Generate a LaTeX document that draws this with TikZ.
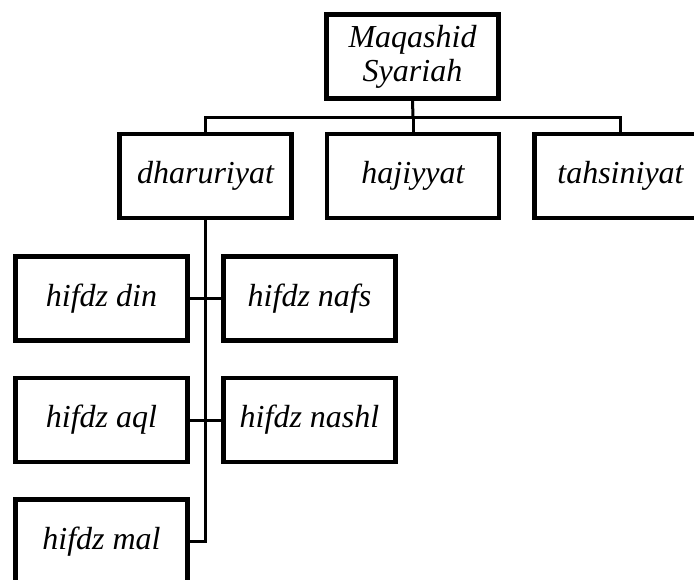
\documentclass[tikz,border=0pt]{standalone}
\usepackage{fontspec}
\setmainfont{Liberation Serif}[ItalicFont={Liberation Serif Italic}]
\usepackage{tikz}

\begin{document}
\begin{tikzpicture}[x=1pt,y=-1pt,
    kotak/.style={draw,line width=4.5pt,rectangle,minimum width=172pt,minimum height=84pt,
      inner sep=0pt,align=center,font=\fontsize{32}{34}\selectfont\itshape},
    garis/.style={line width=3pt}]
        % frame
        \useasboundingbox (0,0) rectangle (694,579);
        \clip (0,0) rectangle (694,579);
        % top
        \node[kotak] (maq) at (412.5,56.5) {Maqashid\\Syariah};
        \node[kotak] (dhar) at (205.5,176) {dharuriyat};
        \node[kotak] (haji) at (413,176) {hajiyyat};
        \node[kotak] (tahs) at (620.5,176) {tahsiniyat};
        % dharuriyat
        \node[kotak] (din) at (101.5,298.5) {hifdz din};
        \node[kotak] (nafs) at (309.5,298.5) {hifdz nafs};
        \node[kotak] (aql) at (101.5,420) {hifdz aql};
        \node[kotak] (nashl) at (309.5,420) {hifdz nashl};
        \node[kotak] (mal) at (101.5,541.5) {hifdz mal};
        % lines
        \coordinate (bus) at (413,117);
        \draw[garis] (maq.south) -- (bus);
        \draw[garis] (dhar.north) |- (bus) -| (tahs.north);
        \draw[garis] (haji.north) -- (bus);
        \draw[garis] (dhar.south) |- (mal.east);
        \draw[garis] (din.east) -- (nafs.west);
        \draw[garis] (aql.east) -- (nashl.west);
      \end{tikzpicture}
\end{document}
